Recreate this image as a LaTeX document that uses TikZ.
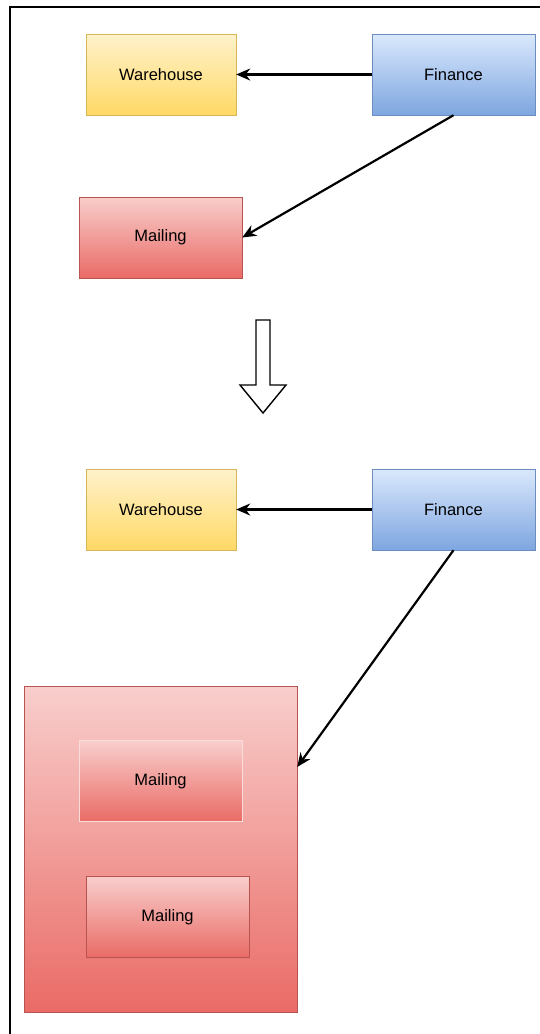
\documentclass[tikz,border=0pt]{standalone}
\usepackage{fontspec}
\setmainfont{Liberation Sans}
\usetikzlibrary{positioning,arrows.meta}
\definecolor{whtop}{HTML}{FFF2CC}
\definecolor{whbot}{HTML}{FFD966}
\definecolor{whline}{HTML}{D6B656}
\definecolor{fitop}{HTML}{DAE8FC}
\definecolor{fibot}{HTML}{7EA6E0}
\definecolor{filine}{HTML}{6C8EBF}
\definecolor{matop}{HTML}{F8CECC}
\definecolor{mabot}{HTML}{EA6B66}
\definecolor{maline}{HTML}{B85450}

\tikzset{
  box/.style={rectangle, minimum height=81pt, font=\fontsize{16.5}{19}\selectfont, inner sep=0pt},
  warehouse/.style={box, draw=whline, top color=whtop, bottom color=whbot, minimum width=150pt},
  finance/.style={box, draw=filine, top color=fitop, bottom color=fibot, minimum width=163pt},
  mailing/.style={box, draw=maline, top color=matop, bottom color=mabot, minimum width=163pt},
  link/.style={-{Stealth[length=14pt,width=12pt]}, line width=2.2pt},
}

\begin{document}
\begin{tikzpicture}[x=1pt,y=-1pt]
  \useasboundingbox (0,0) rectangle (540,1034);
  \draw[line width=1.2pt] (10,1034) |- (540,7);

  % before
  \node[warehouse] (wh1) at (161,74.5) {Warehouse};
  \node[finance] (fin1) at (453.5,74.5) {Finance};
  \node[mailing] (mail1) at (160.5,237.5) {Mailing};

  \draw[link] (fin1.west) -- (wh1.east);
  \draw[link] (fin1.south) -- (mail1.east);

  % hollow arrow
  \draw[line width=1.4pt, fill=white, line join=miter]
    (256,320) -- (270,320) -- (270,385) -- (286,385) -- (263,413)
    -- (240,385) -- (256,385) -- cycle;

  % after
  \node[warehouse] (wh2) at (161,509.5) {Warehouse};
  \node[finance] (fin2) at (453.5,509.5) {Finance};
  \node[mailing, minimum width=273pt, minimum height=326pt] (group) at (160.5,849) {};
  \node[mailing, draw=matop!70!white] (mail2) at (160.5,781) {Mailing};
  \node[mailing] (mail3) at (167.5,917) {Mailing};
  \coordinate (groupin) at (group.east |- 0,767);

  \draw[link] (fin2.west) -- (wh2.east);
  \draw[link] (fin2.south) -- (groupin);
\end{tikzpicture}
\end{document}
